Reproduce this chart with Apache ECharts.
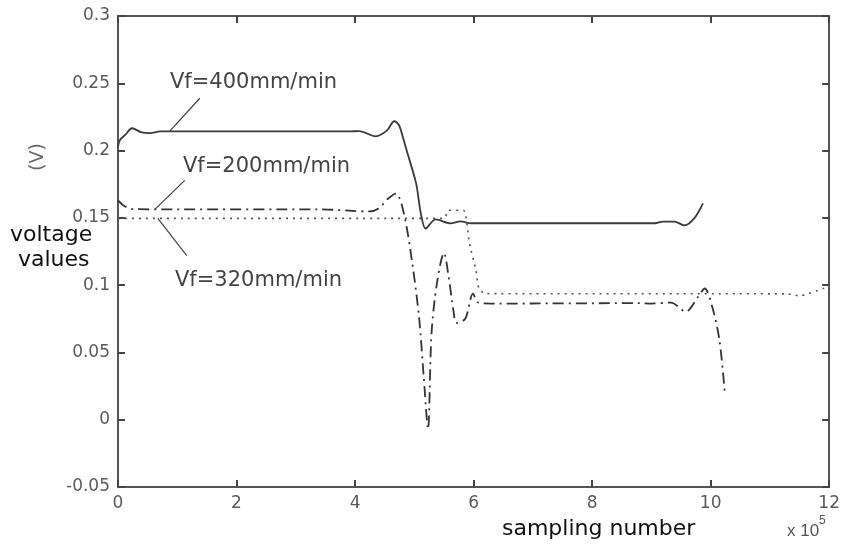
<!DOCTYPE html>
<html>
<head>
<meta charset="utf-8">
<script src="https://cdn.jsdelivr.net/npm/echarts@6/dist/echarts.min.js"></script>
<style>
  html, body { margin: 0; padding: 0; background: #fff; }
  #chart { width: 843px; height: 545px; }
</style>
</head>
<body>
<div id="chart"></div>
<script>
// sampling number (x 10^5) and voltage (V)
const X_TICKS = [0, 2, 4, 6, 8, 10, 12];
const Y_TICKS = [-0.05, 0, 0.05, 0.1, 0.15, 0.2, 0.25, 0.3];

const vf400 = [
  [0, 0.203], [0.03, 0.2077], [0.13, 0.212], [0.235, 0.2166], [0.40, 0.2135],
  [0.54, 0.213], [0.71, 0.2142], [3.90, 0.2142], [4.07, 0.2145], [4.35, 0.2106],
  [4.54, 0.215], [4.66, 0.2218], [4.74, 0.219], [4.82, 0.208], [4.87, 0.2002],
  [5.03, 0.1756], [5.11, 0.1533], [5.19, 0.1421], [5.36, 0.1488], [5.61, 0.1459],
  [5.78, 0.1474], [5.95, 0.146], [9.06, 0.146], [9.19, 0.1472], [9.39, 0.1472],
  [9.56, 0.1444], [9.73, 0.150], [9.87, 0.1607]
];

const vf200 = [
  [0, 0.163], [0.1, 0.159], [0.25, 0.1565], [1.0, 0.1563], [3.4, 0.1563],
  [4.24, 0.1548], [4.40, 0.157], [4.55, 0.164], [4.69, 0.168], [4.82, 0.154],
  [4.96, 0.118], [5.08, 0.076], [5.16, 0.031], [5.23, -0.007], [5.29, 0.064],
  [5.38, 0.101], [5.50, 0.124], [5.58, 0.106], [5.66, 0.081], [5.71, 0.072],
  [5.86, 0.075], [5.99, 0.0937], [6.08, 0.087], [6.3, 0.0863], [8.8, 0.0866],
  [9.0, 0.0863], [9.33, 0.087], [9.58, 0.0803], [9.78, 0.0908], [9.90, 0.0975],
  [10.03, 0.0833], [10.15, 0.0587], [10.24, 0.0193]
];

const vf320 = [
  [0, 0.1496], [5.5, 0.1496], [5.58, 0.1556], [5.83, 0.1556], [5.93, 0.131],
  [6.04, 0.111], [6.09, 0.0975], [6.2, 0.0937], [11.3, 0.0935], [11.5, 0.092],
  [11.9, 0.0975], [12, 0.098]
];

// leader lines from the labels to the curves
const lead400 = [[1.38, 0.2389], [0.874, 0.2144]];
const lead200 = [[1.126, 0.1779], [0.622, 0.1563]];
const lead320 = [[0.672, 0.1496], [1.16, 0.122]];

const chart = echarts.init(document.getElementById('chart'));

const axisLine = { show: true, onZero: false, lineStyle: { color: '#555', width: 2 } };
const axisTick = { show: true, inside: true, length: 7, lineStyle: { color: '#444', width: 2 } };
const tickFont = { color: '#5a5a5a', fontFamily: 'DejaVu Sans', fontSize: 17 };

function leader(coords) {
  return {
    silent: true,
    symbol: 'none',
    label: { show: false },
    lineStyle: { color: '#444', width: 1.2, type: 'solid' },
    data: [[{ coord: coords[0] }, { coord: coords[1] }]]
  };
}

chart.setOption({
  animation: false,
  backgroundColor: '#fff',
  grid: { left: 118, right: 11, top: 16, bottom: 58 },
  xAxis: [
    {
      type: 'value', min: 0, max: 12, interval: 2,
      axisLine, axisTick, splitLine: { show: false },
      axisLabel: { ...tickFont, margin: 8, formatter: v => X_TICKS.includes(v) ? String(v) : '' }
    },
    {
      type: 'value', position: 'top', min: 0, max: 12, interval: 2,
      axisLine, axisTick, splitLine: { show: false }, axisLabel: { show: false }
    }
  ],
  yAxis: [
    {
      type: 'value', min: -0.05, max: 0.3, interval: 0.05,
      axisLine, axisTick, splitLine: { show: false },
      axisLabel: {
        ...tickFont, margin: 8,
        formatter: v => {
          const r = Math.round(v * 100) / 100;
          return Y_TICKS.some(t => Math.abs(t - r) < 1e-9) ? String(r) : '';
        }
      }
    },
    {
      type: 'value', position: 'right', min: -0.05, max: 0.3, interval: 0.05,
      axisLine, axisTick, splitLine: { show: false }, axisLabel: { show: false }
    }
  ],
  series: [
    {
      name: 'Vf=400mm/min', type: 'line', data: vf400, showSymbol: false, smooth: 0.3,
      lineStyle: { color: '#3a3a3a', width: 1.8 },
      markLine: leader(lead400)
    },
    {
      name: 'Vf=200mm/min', type: 'line', data: vf200, showSymbol: false, smooth: 0.3,
      lineStyle: { color: '#333', width: 1.8, type: [11, 5, 2, 5] },
      markLine: leader(lead200)
    },
    {
      name: 'Vf=320mm/min', type: 'line', data: vf320, showSymbol: false, smooth: 0.2,
      lineStyle: { color: '#555', width: 1.6, type: [2, 5] },
      markLine: leader(lead320)
    }
  ],
  graphic: [
    { type: 'text', left: 170, top: 72, style: { text: 'Vf=400mm/min', fill: '#444', font: '21px "DejaVu Sans"' } },
    { type: 'text', left: 183, top: 156, style: { text: 'Vf=200mm/min', fill: '#444', font: '21px "DejaVu Sans"' } },
    { type: 'text', left: 175, top: 270, style: { text: 'Vf=320mm/min', fill: '#444', font: '21px "DejaVu Sans"' } },
    { type: 'text', x: 38, y: 157, rotation: Math.PI / 2,
      style: { text: '(V)', fill: '#666', font: '19px "DejaVu Sans"', align: 'center', verticalAlign: 'middle' } },
    { type: 'text', left: 10, top: 224, style: { text: 'voltage', fill: '#111', font: '22px "DejaVu Sans"' } },
    { type: 'text', left: 18, top: 249, style: { text: 'values', fill: '#111', font: '22px "DejaVu Sans"' } },
    { type: 'text', left: 502, top: 518, style: { text: 'sampling number', fill: '#111', font: '22px "DejaVu Sans"' } },
    { type: 'text', left: 787, top: 523, style: { text: 'x 10', fill: '#555', font: '17px "Liberation Sans"' } },
    { type: 'text', left: 819, top: 515, style: { text: '5', fill: '#555', font: '12px "Liberation Sans"' } }
  ]
});
</script>
</body>
</html>
